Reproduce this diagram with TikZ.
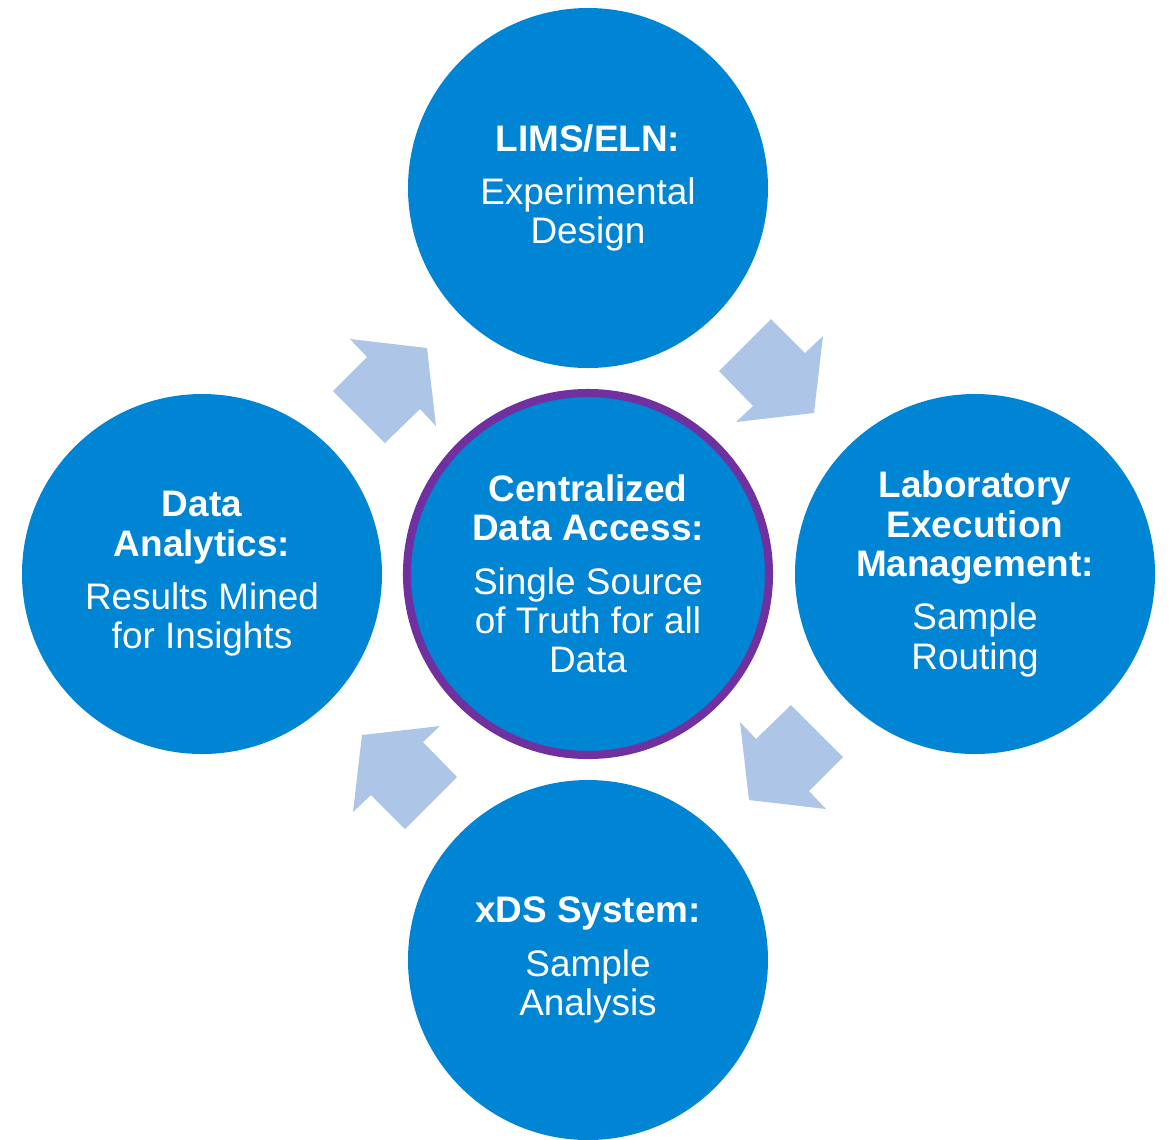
\documentclass[tikz,border=0pt]{standalone}
\usepackage{fontspec}
\setmainfont{Liberation Sans}
\definecolor{discblue}{RGB}{0,132,212}
\definecolor{hubpurple}{RGB}{112,48,160}
\definecolor{arrowblue}{RGB}{173,197,231}
\tikzset{
  stage/.style={shape=circle, fill=discblue, minimum size=3.6cm, inner sep=0pt,
                text=white, align=center, font=\fontsize{10.5}{11.2}\selectfont},
  hub/.style={stage, draw=hubpurple, line width=2.3pt, minimum size=3.62cm},
  cyclearrow/.style={fill=arrowblue}
}
\begin{document}
\begin{tikzpicture}
  \useasboundingbox (-5.88,-5.65) rectangle (5.82,5.74);
  % block arrows round the hub, clockwise
  \foreach \a in {0,90,180,270}
    \fill[cyclearrow, rotate=\a] (1.83,2.55) -- (2.17,2.21) -- (2.35,2.38)
      -- (2.26,1.61) -- (1.48,1.52) -- (1.65,1.68) -- (1.31,2.03) -- cycle;
  \node[hub] (hub) at (0,0)
    {\textbf{Centralized}\\\textbf{Data Access:}\\[4pt]Single Source\\of Truth for all\\Data};
  \node[stage] (lims) at (0,3.86)
    {\textbf{LIMS/ELN:}\\[4pt]Experimental\\Design};
  \node[stage] (lem) at (3.87,0)
    {\textbf{Laboratory}\\\textbf{Execution}\\\textbf{Management:}\\[4pt]Sample\\Routing};
  \node[stage] (xds) at (0,-3.86)
    {\textbf{xDS System:}\\[4pt]Sample\\Analysis};
  \node[stage] (analytics) at (-3.86,0)
    {\textbf{Data}\\\textbf{Analytics:}\\[4pt]Results Mined\\for Insights};
\end{tikzpicture}
\end{document}
